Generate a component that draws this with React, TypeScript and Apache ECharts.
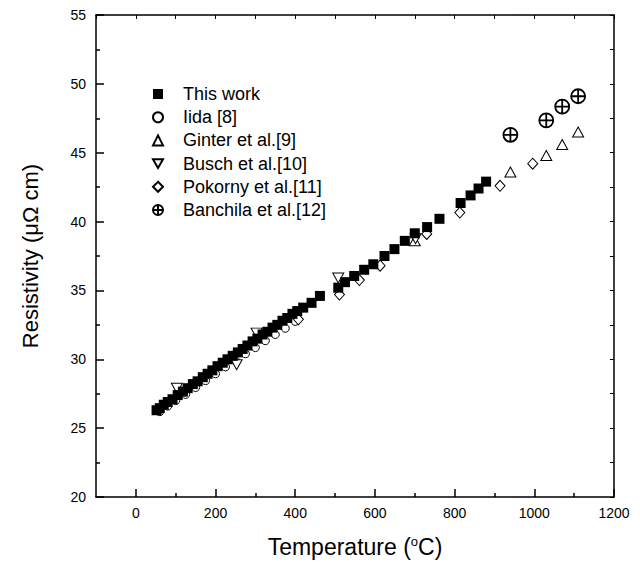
import React, { useEffect, useRef } from "react";
import * as echarts from "echarts";

// Data
const thisWorkT = [52, 60, 70, 80, 92, 105, 118, 130, 143, 155, 168, 180, 192, 205, 218, 230, 243, 256, 268, 280, 293, 305, 318, 330, 343, 355, 368, 380, 393, 405, 420, 441, 462, 508, 525, 548, 573, 596, 624, 649, 675, 700, 731, 762, 815, 840, 860, 879];
const thisWorkR = [26.3, 26.45, 26.7, 26.9, 27.1, 27.4, 27.65, 27.9, 28.2, 28.4, 28.7, 28.95, 29.2, 29.5, 29.75, 30.0, 30.25, 30.5, 30.75, 31.0, 31.3, 31.5, 31.8, 32.0, 32.3, 32.5, 32.8, 33.0, 33.3, 33.5, 33.75, 34.1, 34.6, 35.2, 35.6, 36.05, 36.5, 36.9, 37.5, 38.0, 38.6, 39.15, 39.6, 40.2, 41.35, 41.9, 42.4, 42.9];

const iidaT = [60, 80, 100, 125, 150, 175, 200, 225, 250, 275, 300, 325, 350, 375, 400];
const iidaR = [26.2, 26.6, 27.0, 27.45, 27.95, 28.45, 28.95, 29.45, 29.9, 30.4, 30.85, 31.35, 31.8, 32.25, 32.75];

const ginterT = [700, 940, 1030, 1070, 1110];
const ginterR = [38.6, 43.6, 44.8, 45.6, 46.5];

const buschT = [103, 253, 303, 508, 702];
const buschR = [27.9, 29.6, 31.9, 35.9, 38.75];

const pokornyT = [408, 511, 561, 613, 730, 813, 914, 996];
const pokornyR = [32.9, 34.7, 35.75, 36.8, 39.1, 40.65, 42.6, 44.2];

const banchilaT = [940, 1030, 1070, 1110];
const banchilaR = [46.3, 47.35, 48.35, 49.1];

const xLabelTicks = [0, 200, 400, 600, 800, 1000, 1200];
const xMinorTicks = [100, 300, 500, 700, 900, 1100];
const xTopTicks = [-100, 0, 100, 200, 300, 400, 500, 600, 700, 800, 900, 1000, 1100, 1200];

const seriesNames = ["This work", "Iida [8]", "Ginter et al.[9]", "Busch et al.[10]", "Pokorny et al.[11]", "Banchila et al.[12]"];

const FONT = "'Liberation Sans', Arial, Helvetica, sans-serif";

const zip = (a: number[], b: number[]) => a.map((v, i) => [v, b[i]]);

const downTri = "path://M0,0L10,0L5,8.66Z";
const circlePlus = "path://M0,10A10,10 0 1 0 20,10A10,10 0 1 0 0,10Z M10,0L10,20 M0,10L20,10";

export default function App() {
  const ref = useRef<HTMLDivElement>(null);
  useEffect(() => {
    if (!ref.current) return;
    const chart = echarts.init(ref.current, undefined, { renderer: "svg" });
    const hollow = { color: "#fff", borderColor: "#000", borderWidth: 1, opacity: 1 };
    const lineStyle = { color: "#000", width: 1.5 };
    chart.setOption({
      animation: false,
      backgroundColor: "#fff",
      textStyle: { fontFamily: FONT },
      grid: { left: 96, right: 26, top: 15, bottom: 73, containLabel: false },
      legend: {
        orient: "vertical",
        left: 147,
        top: 80,
        itemGap: 5.2,
        itemWidth: 10,
        itemHeight: 10,
        data: seriesNames,
        textStyle: { fontSize: 18, color: "#000", fontFamily: FONT, padding: [0, 0, 0, 15] },
        selectedMode: false,
      },
      xAxis: [
        {
          type: "value",
          min: -100,
          max: 1200,
          position: "bottom",
          axisLine: { show: true, onZero: false, lineStyle },
          axisTick: { show: true, inside: true, length: 8, customValues: xLabelTicks, lineStyle },
          axisLabel: { show: true, customValues: xLabelTicks, fontSize: 14, color: "#000", margin: 9, fontFamily: FONT, formatter: (v: number) => String(v) },
          splitLine: { show: false },
          name: "Temperature ({sup|o}C)",
          nameLocation: "middle",
          nameGap: 38,
          nameTextStyle: {
            fontSize: 23,
            color: "#000",
            fontFamily: FONT,
            rich: { sup: { fontSize: 13, verticalAlign: "top", padding: [0, 0, 10, 0], color: "#000", fontFamily: FONT } },
          },
        },
        {
          type: "value",
          min: -100,
          max: 1200,
          position: "bottom",
          axisLine: { show: false, onZero: false },
          axisTick: { show: true, inside: true, length: 4, customValues: xMinorTicks, lineStyle },
          axisLabel: { show: false },
          splitLine: { show: false },
        },
        {
          type: "value",
          min: -100,
          max: 1200,
          position: "top",
          axisLine: { show: true, onZero: false, lineStyle },
          axisTick: { show: true, inside: true, length: 4, customValues: xTopTicks, lineStyle: { color: "#000", width: 1 } },
          axisLabel: { show: false },
          splitLine: { show: false },
        },
      ],
      yAxis: [
        {
          type: "value",
          min: 20,
          max: 55,
          interval: 5,
          position: "left",
          axisLine: { show: true, onZero: false, lineStyle },
          axisTick: { show: true, inside: true, length: 8, lineStyle },
          minorTick: { show: true, splitNumber: 2, length: 4, lineStyle },
          axisLabel: { fontSize: 14, color: "#000", margin: 10, fontFamily: FONT },
          splitLine: { show: false },
          name: "Resistivity (\u03bc\u03a9 cm)",
          nameLocation: "middle",
          nameGap: 55,
          nameTextStyle: { fontSize: 22, color: "#000", fontFamily: FONT },
        },
        {
          type: "value",
          min: 20,
          max: 55,
          interval: 2.5,
          position: "right",
          axisLine: { show: true, onZero: false, lineStyle },
          axisTick: { show: true, inside: true, length: 4, lineStyle: { color: "#000", width: 1 } },
          axisLabel: { show: false },
          splitLine: { show: false },
        },
      ],
      series: [
        {
          name: seriesNames[0], type: "scatter", symbol: "rect", symbolSize: 10,
          itemStyle: { color: "#000", opacity: 1 }, data: zip(thisWorkT, thisWorkR), z: 3,
        },
        {
          name: seriesNames[1], type: "scatter", symbol: "circle", symbolSize: 8,
          itemStyle: hollow, data: zip(iidaT, iidaR), z: 2,
        },
        {
          name: seriesNames[2], type: "scatter", symbol: "triangle", symbolSize: [11, 10],
          itemStyle: hollow, data: zip(ginterT, ginterR), z: 2,
        },
        {
          name: seriesNames[3], type: "scatter", symbol: downTri, symbolSize: [11, 10],
          itemStyle: hollow, data: zip(buschT, buschR), z: 2,
        },
        {
          name: seriesNames[4], type: "scatter", symbol: "diamond", symbolSize: [10, 11],
          itemStyle: hollow, data: zip(pokornyT, pokornyR), z: 2,
        },
        {
          name: seriesNames[5], type: "scatter", symbol: circlePlus, symbolSize: 14,
          itemStyle: { color: "#fff", borderColor: "#000", borderWidth: 1.8, opacity: 1 }, data: zip(banchilaT, banchilaR), z: 2,
        },
      ],
    });
    return () => chart.dispose();
  }, []);
  return <div ref={ref} style={{ position: "fixed", left: 0, top: 0, width: 640, height: 570 }} />;
}
